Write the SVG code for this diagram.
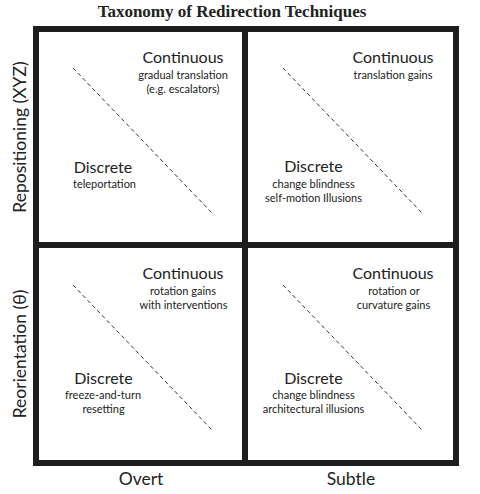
<svg xmlns="http://www.w3.org/2000/svg" width="480" height="494" viewBox="0 0 480 494">
<style>
.title{font-family:"Liberation Serif","Times New Roman",serif;font-weight:bold;font-size:17px;fill:#222;}
.h{font-family:Lato,"Open Sans",sans-serif;font-size:16px;fill:#222;text-anchor:middle;}
.s{font-family:Lato,"Open Sans",sans-serif;font-size:11px;fill:#222;text-anchor:middle;}
.ax{font-family:Lato,"Open Sans",sans-serif;font-size:17.5px;fill:#222;text-anchor:middle;}
.frame{fill:none;stroke:#1e1e1e;stroke-width:6;}
.dash{stroke:#333;stroke-width:1;stroke-dasharray:4 3;fill:none;}
</style>
<rect width="480" height="494" fill="#fff"/>
<text class="title" x="232" y="17" text-anchor="middle">Taxonomy of Redirection Techniques</text>
<g id="frame">
<rect class="frame" x="36" y="29" width="420" height="434"/>
<line class="frame" x1="245" y1="29" x2="245" y2="463"/>
<line class="frame" x1="36" y1="245" x2="456" y2="245"/>
</g>
<g id="connectors">
<line class="dash" x1="73" y1="68" x2="212" y2="213"/>
<line class="dash" x1="283" y1="68" x2="422" y2="213"/>
<line class="dash" x1="73" y1="285" x2="212" y2="430"/>
<line class="dash" x1="283" y1="285" x2="422" y2="430"/>
</g>
<g id="cell-overt-repositioning">
<text class="h" x="183" y="63">Continuous</text>
<text class="s" x="183" y="79">gradual translation</text>
<text class="s" x="183" y="93">(e.g. escalators)</text>
<text class="h" x="103" y="173">Discrete</text>
<text class="s" x="104.5" y="188">teleportation</text>
</g>
<g id="cell-subtle-repositioning">
<text class="h" x="393" y="63">Continuous</text>
<text class="s" x="393" y="79">translation gains</text>
<text class="h" x="313.5" y="172">Discrete</text>
<text class="s" x="313.5" y="188">change blindness</text>
<text class="s" x="313.5" y="202">self-motion Illusions</text>
</g>
<g id="cell-overt-reorientation">
<text class="h" x="183" y="279">Continuous</text>
<text class="s" x="183" y="295">rotation gains</text>
<text class="s" x="183.5" y="309">with interventions</text>
<text class="h" x="103.5" y="384">Discrete</text>
<text class="s" x="103" y="399">freeze-and-turn</text>
<text class="s" x="103.5" y="413">resetting</text>
</g>
<g id="cell-subtle-reorientation">
<text class="h" x="393" y="279">Continuous</text>
<text class="s" x="394" y="295">rotation or</text>
<text class="s" x="393.5" y="309">curvature gains</text>
<text class="h" x="313.5" y="384">Discrete</text>
<text class="s" x="313.5" y="399">change blindness</text>
<text class="s" x="313.5" y="413">architectural illusions</text>
</g>
<g id="axes">
<text class="ax" x="141" y="485">Overt</text>
<text class="ax" x="351" y="485">Subtle</text>
<text class="ax" transform="translate(26,137) rotate(-90)">Repositioning (XYZ)</text>
<text class="ax" transform="translate(26,354) rotate(-90)">Reorientation (θ)</text>
</g>
</svg>
